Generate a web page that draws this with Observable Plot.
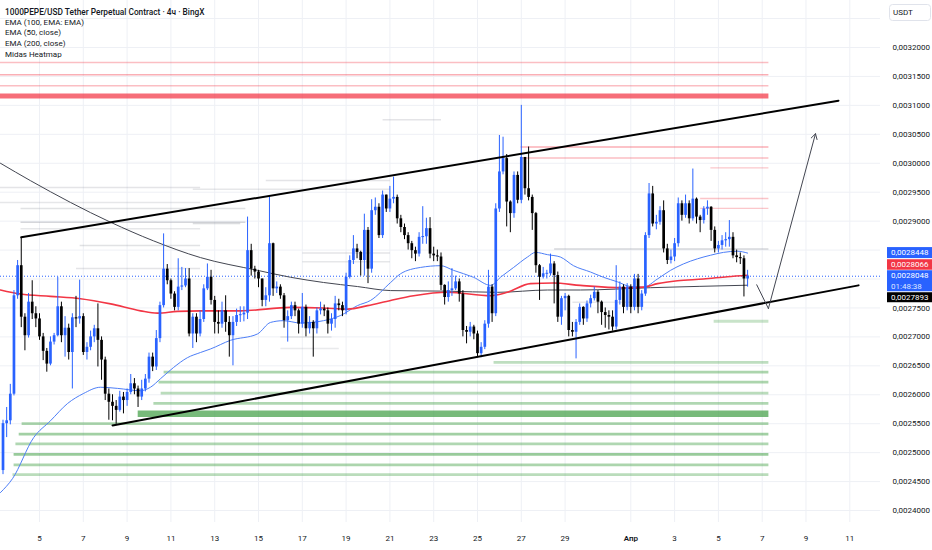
<!DOCTYPE html>
<html><head><meta charset="utf-8">
<script src="https://cdn.jsdelivr.net/npm/d3@7"></script>
<script src="https://cdn.jsdelivr.net/npm/@observablehq/plot@0.6"></script>
<style>
body{margin:0;background:#fff;font-family:Roboto,"Noto Sans",sans-serif;}
#wrap{position:relative;width:932px;height:550px;overflow:hidden;}
#legend{position:absolute;left:5px;top:7px;font-size:8px;line-height:10.7px;color:#131722;white-space:nowrap;}
#legend .t{font-size:8.3px;font-weight:500;}
</style></head><body>
<div id="wrap"><div id="legend">
<div class="t">1000PEPE/USD Tether Perpetual Contract · 4ч · BingX</div>
<div>EMA (100, EMA: EMA)</div>
<div>EMA (50, close)</div>
<div>EMA (200, close)</div>
<div>Midas Heatmap</div>
</div></div>
<script>
// ---- data (prices in units of 1e-6, i.e. 2805 = 0,0028050) ----
const firstCandle = Date.UTC(2025, 2, 3, 8); // 4h candles
const open0 = 2469;
const closes = [
2550,2555,2601,2771,2823,2734,2702,2760,2740,2731,
2700,2675,2653,2691,2702,2752,2702,2715,2673,2733,
2731,2735,2673,2682,2700,2714,2694,2660,2601,2587,
2580,2573,2596,2590,2604,2619,2610,2596,2610,2627,
2665,2648,2697,2754,2817,2797,2774,2751,2786,2788,
2800,2705,2734,2705,2730,2783,2803,2763,2725,2722,
2745,2725,2702,2725,2737,2738,2741,2849,2817,2812,
2800,2763,2771,2861,2783,2786,2771,2728,2735,2754,
2745,2722,2751,2714,2725,2714,2745,2748,2745,2722,
2730,2757,2754,2745,2803,2832,2852,2846,2832,2884,
2817,2918,2924,2875,2945,2921,2938,2941,2904,2889,
2875,2861,2849,2843,2872,2873,2887,2843,2840,2838,
2789,2768,2780,2783,2795,2774,2711,2708,2717,2705,
2671,2682,2722,2786,2740,2921,2985,3008,2933,2913,
2979,2936,3010,2956,2941,2913,2823,2803,2809,2809,
2826,2806,2734,2766,2770,2711,2708,2725,2751,2731,
2757,2766,2777,2760,2742,2737,2734,2717,2763,2786,
2751,2786,2751,2800,2751,2774,2875,2947,2895,2898,
2918,2852,2832,2838,2861,2930,2910,2930,2904,2938,
2907,2901,2921,2924,2884,2852,2858,2866,2868,2872,
2840,2837,2835,2800,2805];
const highs = [
2556,2578,2618,2780,2832,2872,2740,2775,2797,2752,
2740,2706,2680,2700,2706,2803,2760,2735,2722,2740,
2770,2798,2740,2690,2710,2720,2757,2700,2665,2610,
2600,2590,2606,2604,2610,2635,2628,2615,2625,2635,
2672,2672,2711,2760,2878,2825,2800,2778,2835,2820,
2818,2818,2740,2740,2745,2790,2826,2815,2770,2745,
2760,2771,2735,2735,2748,2752,2752,2907,2860,2822,
2815,2800,2785,2944,2862,2795,2790,2775,2745,2760,
2760,2748,2775,2755,2735,2728,2750,2760,2755,2750,
2740,2770,2765,2760,2810,2840,2875,2860,2848,2912,
2889,2937,2940,2930,2952,2945,2960,2976,2945,2910,
2895,2880,2865,2855,2880,2925,2905,2906,2855,2850,
2845,2790,2795,2818,2805,2800,2780,2718,2725,2720,
2710,2690,2728,2815,2790,2930,3048,3045,3015,2935,
2985,2985,3100,3010,3028,2945,2915,2825,2820,2815,
2843,2830,2812,2770,2775,2772,2725,2730,2757,2752,
2762,2772,2786,2780,2762,2750,2745,2745,2823,2795,
2790,2792,2790,2808,2808,2780,2880,2965,2960,2910,
2925,2935,2860,2850,2870,2940,2935,2945,2935,2990,
2940,2910,2925,2935,2925,2890,2865,2875,2880,2901,
2880,2850,2845,2840,2815];
const lows = [
2462,2526,2548,2598,2765,2716,2676,2698,2730,2716,
2694,2659,2639,2650,2686,2700,2690,2665,2660,2610,
2716,2722,2668,2660,2676,2690,2648,2625,2590,2556,
2555,2549,2570,2567,2580,2600,2600,2578,2590,2605,
2620,2640,2642,2690,2750,2790,2765,2745,2745,2780,
2785,2700,2680,2690,2700,2725,2780,2755,2705,2705,
2715,2708,2665,2650,2718,2725,2726,2730,2805,2800,
2785,2752,2752,2760,2770,2775,2765,2715,2691,2730,
2735,2705,2715,2700,2705,2665,2705,2738,2735,2705,
2710,2715,2745,2735,2738,2800,2825,2835,2805,2805,
2792,2810,2910,2870,2870,2915,2915,2930,2895,2880,
2868,2850,2835,2830,2838,2860,2860,2835,2830,2830,
2780,2755,2760,2770,2780,2760,2700,2688,2700,2695,
2665,2664,2678,2715,2725,2735,2915,2980,2890,2880,
2905,2930,2930,2945,2935,2884,2810,2763,2800,2800,
2805,2757,2725,2720,2745,2700,2700,2662,2720,2720,
2725,2750,2762,2740,2720,2715,2712,2710,2712,2755,
2740,2745,2740,2745,2740,2745,2770,2870,2890,2885,
2893,2845,2825,2826,2830,2855,2900,2905,2895,2900,
2895,2880,2895,2910,2865,2845,2845,2850,2855,2855,
2835,2828,2825,2769,2786];

// indicator lines (position = candle number)
const ema50Idx = [-0.7,2.6,8.4,13,17.7,22,26.7,31.4,37.7,40.4,43.2,46.7,50.5,54.1,56.8,62.3,69.7,73.3,76.8,81.5,87.8,92.5,97.1,100.7,106.2,108.9,114.4,119.9,123.4,128.9,133.6,136.3,139.9,143.7,145.9,149.2,152.7,156.3,161,164.5,168.4,171.9,175.5,179.3,182.9,186.4,190.3,193.8,197.4,201.2,204];
const ema50Val = [2431,2455,2526,2555,2585,2602,2613,2611,2607,2613,2628,2647,2664,2673,2679,2694,2705,2725,2728,2724,2728,2737,2754,2763,2794,2809,2820,2823,2815,2803,2789,2803,2820,2838,2846,2842,2838,2823,2812,2803,2795,2787,2786,2800,2815,2826,2835,2841,2846,2848,2844.8];
const ema200Idx = [-0.7,4.8,13,21.2,29.5,37.7,42.3,47.8,54.1,65.1,78.8,87.8,94.4,99.9,106.2,112.5,121.8,133.6,138.2,144.5,150.8,158.2,170,175.5,179.3,184.8,191.9,198.5,204];
const ema200Val = [2781,2774,2770,2766,2757,2745,2741,2744,2745,2745,2751,2750,2748,2754,2763,2771,2777,2771,2777,2792,2793,2789,2785,2786,2792,2797,2800,2804,2806.6];
const ema100Idx = [-0.7,7.5,29.5,41.2,54.1,69.7,78.8,87.8,97.1,106.2,121.8,135.5,149.2,158.2,177.4,204];
const ema100Val = [3000,2970,2898,2866,2837,2815,2803,2794,2787,2780,2779,2777,2781,2781,2785,2789.3];

// drawings
const upperIdx = [5, 228.9], upperVal = [2872, 3108];
const lowerIdx = [30, 234.4], lowerVal = [2547, 2789];
const pathIdx = [206.5, 209.7, 222.6], pathVal = [2790, 2749, 3051];

// Midas heatmap levels
const hmPrice = [3174,3153,3134,3116,3028,3009,2992,2939,2922,
  2727,2656,2639,2622,2603,2585,2567,2550,2532,2515,2497,2479,2462,
  2958,2932,2922,2898,2887,2858,2818,2970,2955,2896,2845,2830,3075,2852,2760,2700,2680];
const hmFrom = [-1,-1,-1,-1,141.8,141.8,193.8,191,191,
  194.7,134.4,44,42.6,43.2,41.2,36.9,5.1,4.3,3.4,2.9,2.9,2.6,
  -1,-1,4.8,4.8,4.8,21,20,72,52,52,82,82,104,151,156,76,76];
const hmTo = [209.7,209.7,209.7,209.7,209.7,209.7,209.7,209.7,209.7,
  209.7,209.7,209.7,209.7,209.7,209.7,209.7,209.7,209.7,209.7,209.7,209.7,209.7,
  54,54,66.4,66.4,54,54,54,106,106,65,106,106,120,209.7,209.7,90,92];
const hmSide = ["ask","ask","ask","ask","ask","ask","ask","ask","ask",
  "bid","bid","bid","bid","bid","bid","bid","bid","bid","bid","bid","bid","bid",
  "old","old","old","old","old","old","old","old","old","old","old","old","old","old","old","old","old"];
const hmWeight = [0.2,0.35,0.2,1,0.35,0.2,0.12,0.15,0.12,
  0.15,0.25,0.45,0.45,0.3,0.4,1,0.45,0.55,0.4,0.65,0.45,0.3,
  0.25,0.2,0.3,0.5,0.2,0.3,0.25,0.25,0.2,0.4,0.25,0.2,0.25,0.5,0.2,0.2,0.15];

const lastPrice = 2804.8, ema50Last = 2844.8, ema200Last = 2806.6, ema100Last = 2789.3;
const countdown = "01:48:38";
const currency = "USDT";
const dayTicks = [5,7,9,11,13,15,17,19,21,23,25,27,29].map(d => new Date(Date.UTC(2025,2,d)))
  .concat([3,5,7,9,11].map(d => new Date(Date.UTC(2025,3,d))));
const monthTick = new Date(Date.UTC(2025,3,1));
const gridTicks = d3.range(0,18).map(k => 2400 + 50*k);           // 0,0024000 … 0,0032500
const labelTicks = gridTicks.filter(v => v <= 3200 && v !== 2850 && v !== 2800); // the two under the price tags are hidden

// ---- build ----
const U = 1e-6, H4 = 4*3600e3;
const at = i => new Date(firstCandle + i*H4);
const candles = closes.map((c, i) => {
  const o = i ? closes[i-1] : open0;
  const up = c >= o;
  let b1 = o, b2 = c;
  if (Math.abs(c - o) < 1.5) { const m = (o + c)/2; b1 = m - 0.9; b2 = m + 0.9; }
  return {date: at(i), low: lows[i]*U, high: highs[i]*U, b1: b1*U, b2: b2*U, col: up ? "#2962ff" : "#000000"};
});
const series = (idx, val) => idx.map((k, j) => ({date: at(k), v: val[j]*U}));
const heat = hmPrice.map((p, j) => ({p: p*U, x1: at(hmFrom[j]), x2: at(hmTo[j]), side: hmSide[j], w: hmWeight[j]}));
const heatColor = {ask: "#f23645", bid: "#43a047", old: "#9598a1"};
const fmt = v => v.toFixed(7).replace(".", ",");

const BLUE = "#2962ff";
const chart = Plot.plot({
  width: 932, height: 550,
  marginLeft: 0, marginRight: 52, marginTop: 0, marginBottom: 28,
  style: {fontFamily: "Roboto, 'Noto Sans', sans-serif", fontSize: "8px", color: "#131722", background: "transparent", overflow: "visible"},
  x: {type: "utc", domain: [new Date(Date.UTC(2025,2,3,5,15)), new Date(Date.UTC(2025,3,12,9,39))], axis: null},
  y: {domain: [0.0023793, 0.0032812], axis: null},
  color: {type: "identity"},
  marks: [
    Plot.gridX(dayTicks.concat([monthTick]), {stroke: "#eef0f5", strokeOpacity: 1}),
    Plot.gridY(gridTicks.map(v => v*U), {stroke: "#eef0f5", strokeOpacity: 1, dx: 0}),
    Plot.axisY(labelTicks.map(v => v*U), {anchor: "right", tickSize: 0, tickPadding: 12, tickFormat: fmt, fontSize: 8, fill: "#131722"}),
    Plot.text(dayTicks, {x: d => d, text: d => String(d.getUTCDate()), frameAnchor: "bottom", dy: 18, fontSize: 8, fill: "#131722"}),
    Plot.text([monthTick], {x: d => d, text: () => "Апр", frameAnchor: "bottom", dy: 18, fontSize: 8, fontWeight: 600, fill: "#131722"}),
    // heatmap
    Plot.link(heat, {x1: "x1", x2: "x2", y1: "p", y2: "p",
      stroke: d => heatColor[d.side],
      strokeOpacity: d => d.side === "old" ? 0.12 + 0.55*d.w : 0.22 + 0.5*d.w,
      strokeWidth: d => d.side === "old" ? 1.5 : d.w > 0.9 ? (d.side === "bid" ? 6.5 : 5) : d.side === "bid" ? 2.8 : 1.4}),
    // current price line
    Plot.ruleY([lastPrice*U], {stroke: BLUE, strokeDasharray: "1,2", strokeWidth: 1}),
    // EMAs
    Plot.line(series(ema100Idx, ema100Val), {x: "date", y: "v", stroke: "#434651", strokeWidth: 1, curve: "monotone-x"}),
    Plot.line(series(ema50Idx, ema50Val), {x: "date", y: "v", stroke: "#4d7ef7", strokeWidth: 1, curve: "monotone-x"}),
    Plot.line(series(ema200Idx, ema200Val), {x: "date", y: "v", stroke: "#f23645", strokeWidth: 1.6, curve: "monotone-x"}),
    // candles
    Plot.ruleX(candles, {x: "date", y1: "low", y2: "high", stroke: "col", strokeWidth: 1}),
    Plot.ruleX(candles, {x: "date", y1: "b1", y2: "b2", stroke: "col", strokeWidth: 2.7}),
    // drawings
    Plot.line(series(upperIdx, upperVal), {x: "date", y: "v", stroke: "#000", strokeWidth: 2}),
    Plot.line(series(lowerIdx, lowerVal), {x: "date", y: "v", stroke: "#000", strokeWidth: 2}),
    Plot.line(series(pathIdx.slice(0,2), pathVal.slice(0,2)), {x: "date", y: "v", stroke: "#434651", strokeWidth: 1}),
    Plot.arrow([0], {x1: () => at(pathIdx[1]), y1: () => pathVal[1]*U, x2: () => at(pathIdx[2]), y2: () => pathVal[2]*U,
      stroke: "#434651", strokeWidth: 1, headLength: 9, bend: 0})
  ]
});

// price tags on the right scale
const ys = chart.scale("y");
const svg = d3.select(chart);
function tag(yTop, h, fill, lines, sub) {
  const g = svg.append("g").attr("text-anchor", "start");
  g.append("rect").attr("x", 887).attr("y", yTop).attr("width", 45).attr("height", h).attr("fill", fill);
  lines.forEach((t, k) => g.append("text").attr("x", 891).attr("y", yTop + 5.6 + k*10.3)
    .attr("text-anchor", "start").attr("dominant-baseline", "central")
    .attr("fill", k && sub ? "#dfe6ff" : "#fff").attr("font-size", 8).text(t));
}
const yBlue1 = ys.apply(ema50Last*U) - 5.5;
const yBlue2 = ys.apply(lastPrice*U) - 5.5;
tag(yBlue1, 11, BLUE, [fmt(ema50Last*U)]);
tag(yBlue2 - 11, 10.5, "#f23645", [fmt(ema200Last*U)]);
tag(yBlue2, 21, BLUE, [fmt(lastPrice*U), countdown], true);
tag(yBlue2 + 22, 10, "#000", [fmt(ema100Last*U)]);
// currency badge
svg.append("rect").attr("x", 889.5).attr("y", 4.5).attr("width", 41).attr("height", 16).attr("rx", 3)
  .attr("fill", "#fff").attr("stroke", "#e0e3eb");
svg.append("text").attr("x", 893).attr("y", 12.7).attr("text-anchor", "start").attr("dominant-baseline", "central")
  .attr("font-size", 8).attr("fill", "#131722").text(currency);

const wrap = document.getElementById("wrap");
wrap.insertBefore(chart, wrap.firstChild);
chart.style.position = "absolute"; chart.style.left = "0"; chart.style.top = "0";
</script>
</body></html>
